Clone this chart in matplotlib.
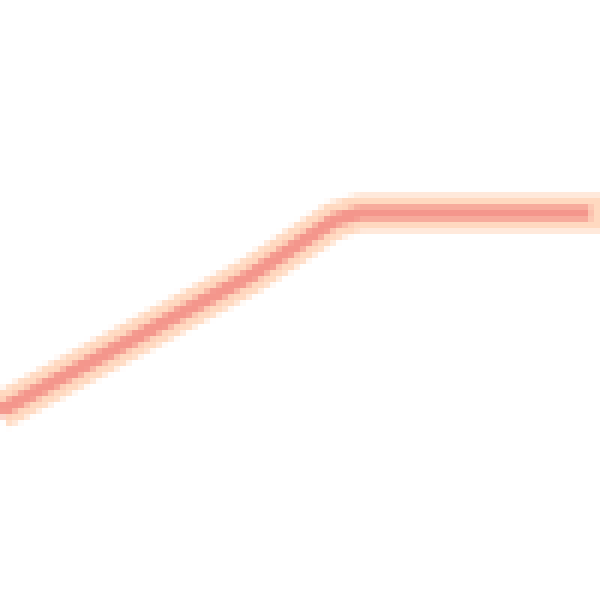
import numpy as np
import matplotlib
matplotlib.use("Agg")
import matplotlib.pyplot as plt

# line vertices (x to the right, y upwards, 0..600 box)
x_vals = [0, 150, 250, 335, 360, 600]
y_vals = [189, 270, 324, 380, 387, 387]

HALO = "#ffd9c0"
CORE = "#f4968c"


def draw_small():
    # draw at low resolution first, the reference looks like an upscaled thumbnail
    fig, ax = plt.subplots(figsize=(1, 1), dpi=100)
    fig.subplots_adjust(0, 0, 1, 1)
    ax.plot(x_vals, y_vals, color=HALO, lw=4.4, solid_capstyle="butt")
    ax.plot(x_vals[:-1] + [590], y_vals, color=CORE, lw=1.7, solid_capstyle="butt")
    ax.set_xlim(0, 600)
    ax.set_ylim(0, 600)
    ax.axis("off")
    fig.canvas.draw()
    img = np.asarray(fig.canvas.buffer_rgba()).copy()
    plt.close(fig)
    return img


def main():
    small = draw_small()
    fig = plt.figure(figsize=(6, 6), dpi=100)
    ax = fig.add_axes([0, 0, 1, 1])
    ax.imshow(small, interpolation="nearest", aspect="auto")
    ax.axis("off")
    fig.savefig("out.png", dpi=100, facecolor="white")


if __name__ == "__main__":
    main()
